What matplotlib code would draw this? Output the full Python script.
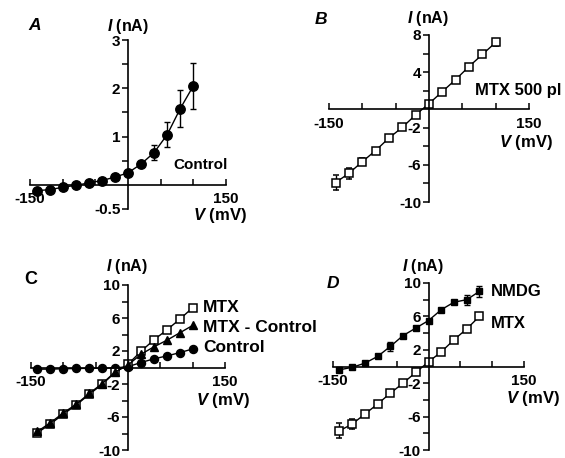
import matplotlib
matplotlib.use("Agg")
import matplotlib.pyplot as plt
import numpy as np

plt.rcParams['font.family'] = ['Liberation Sans', 'DejaVu Sans']
plt.rcParams['font.weight'] = 'bold'
plt.rcParams['mathtext.fontset'] = 'custom'
plt.rcParams['mathtext.rm'] = 'Liberation Sans:bold'
plt.rcParams['mathtext.it'] = 'Liberation Sans:italic:bold'

# ---------------- data ----------------
V13 = [-140, -120, -100, -80, -60, -40, -20, 0, 20, 40, 60, 80, 100]
V12 = [-140, -120, -100, -80, -60, -40, -20, 0, 20, 40, 60, 80]

# Panel A: control
a_control = [-0.12, -0.10, -0.05, -0.01, 0.04, 0.09, 0.16, 0.25, 0.43, 0.67, 1.04, 1.58, 2.05]
a_control_err = [0, 0, 0, 0, 0, 0, 0, 0, 0, 0.16, 0.26, 0.39, 0.47]

# Panel B: MTX 500 pM
b_mtx = [-7.9, -6.9, -5.65, -4.45, -3.1, -1.95, -0.6, 0.6, 1.9, 3.2, 4.6, 5.9, 7.2]
b_mtx_err = [0.8, 0.6, 0.4, 0, 0, 0, 0, 0, 0, 0, 0, 0, 0.4]

# Panel C
c_mtx = [-7.9, -6.85, -5.65, -4.55, -3.25, -2.05, -0.6, 0.4, 1.95, 3.35, 4.55, 5.85, 7.25]
c_diff = [-7.75, -6.7, -5.5, -4.45, -3.15, -1.95, -0.55, 0.3, 1.6, 2.5, 3.3, 4.2, 5.1]
c_control = [-0.2, -0.2, -0.15, -0.12, -0.1, -0.08, -0.05, 0.1, 0.6, 1.05, 1.4, 1.8, 2.25]

# Panel D
d_nmdg = [-0.4, -0.1, 0.4, 1.2, 2.4, 3.7, 4.6, 5.5, 6.8, 7.7, 8.0, 9.0]
d_nmdg_err = [0.3, 0, 0, 0, 0.5, 0, 0, 0, 0, 0, 0.6, 0.7]
d_mtx = [-7.7, -6.9, -5.7, -4.5, -3.2, -2.0, -0.7, 0.55, 1.75, 3.2, 4.5, 6.0]
d_mtx_err = [0.9, 0.6, 0.4, 0, 0, 0, 0, 0, 0, 0, 0, 0]

xticks = [-150, -100, -50, 50, 100, 150]
xticklabels = ['-150', '', '', '', '', '150']
a_yticks = [-0.5, 0.5, 1, 1.5, 2, 2.5, 3]
a_yticklabels = ['-0.5', '', '1', '', '2', '', '3']
b_yticks = [-10, -8, -6, -4, -2, 2, 4, 6, 8]
b_yticklabels = ['-10', '', '-6', '', '-2', '', '4', '', '8']
cd_yticks = [-10, -8, -6, -4, -2, 2, 4, 6, 8, 10]
cd_yticklabels = ['-10', '', '-6', '', '-2', '2', '', '6', '', '10']

# ---------------- figure ----------------
W, H = 565, 458
fig = plt.figure(figsize=(W / 100, H / 100), dpi=100)
TFS = 11


def px_axes(left, right, top, bottom):
    return fig.add_axes([left / W, 1 - bottom / H, (right - left) / W, (bottom - top) / H])


def ftext(x, y, s, fs=12, **kw):
    kw.setdefault('va', 'center')
    fig.text(x / W, 1 - y / H, s, fontsize=fs, **kw)


def style(ax, ylim, yticks, yticklabels):
    ax.set_xlim(-150, 150)
    ax.set_ylim(*ylim)
    ax.patch.set_alpha(0)
    for s in ['top', 'right']:
        ax.spines[s].set_visible(False)
    ax.spines['left'].set_position(('data', 0))
    ax.spines['bottom'].set_position(('data', 0))
    for s in ['left', 'bottom']:
        ax.spines[s].set_linewidth(1.2)
    ax.set_xticks(xticks)
    ax.set_xticklabels(xticklabels)
    ax.set_yticks(yticks)
    ax.set_yticklabels(yticklabels)
    ax.tick_params(axis='x', direction='in', length=4, width=1.1, pad=5.5, labelsize=TFS)
    ax.tick_params(axis='y', direction='out', length=4, width=1.1, pad=1.5, labelsize=TFS)


ebkw = dict(color='black', lw=1, capsize=2.5, elinewidth=1, capthick=1, clip_on=False)

# Panel A
axA = px_axes(30, 226, 40, 209)
style(axA, (-0.5, 3), a_yticks, a_yticklabels)
axA.errorbar(V13, a_control, yerr=a_control_err, fmt='o-', ms=6.8, mfc='black', mec='black', **ebkw)

# Panel B
axB = px_axes(329, 529, 35, 202)
style(axB, (-10, 8), b_yticks, b_yticklabels)
axB.errorbar(V13, b_mtx, yerr=b_mtx_err, fmt='s-', ms=5.2, mfc='white', mec='black', mew=1.1, **ebkw)

# Panel C
axC = px_axes(31, 225, 285, 450)
style(axC, (-10, 10), cd_yticks, cd_yticklabels)
axC.plot(V13, c_control, 'o-', color='black', ms=5.8, lw=1, clip_on=False)
axC.plot(V13, c_mtx, 's-', color='black', ms=5.2, mfc='white', mew=1.1, lw=1, clip_on=False)
axC.plot(V13, c_diff, '^-', color='black', ms=5.5, lw=1, clip_on=False)

# Panel D
axD = px_axes(333, 524, 283, 450)
style(axD, (-10, 10), cd_yticks, cd_yticklabels)
axD.errorbar(V12, d_nmdg, yerr=d_nmdg_err, fmt='s-', ms=5, mfc='black', mec='black', **ebkw)
axD.errorbar(V12, d_mtx, yerr=d_mtx_err, fmt='s-', ms=5.2, mfc='white', mec='black', mew=1.1, **ebkw)

# ---------------- texts ----------------
# panel letters
ftext(28, 25, 'A', fs=12.5, style='italic')
ftext(315, 20, 'B', fs=12.5, style='italic')
ftext(24, 280, 'C', fs=13)
ftext(327, 283, 'D', fs=12.5, style='italic')

# y axis titles
ftext(107, 26, '$I$ (nA)', fs=11.5)
ftext(407, 19, '$I$ (nA)', fs=11.5)
ftext(106, 267, '$I$ (nA)', fs=11.5)
ftext(402, 266, '$I$ (nA)', fs=11.5)

# x axis titles
ftext(193, 215, '$V$ (mV)', fs=12)
ftext(499, 142, '$V$ (mV)', fs=12)
ftext(196, 401, '$V$ (mV)', fs=12)
ftext(506, 398, '$V$ (mV)', fs=12)

# curve labels
ftext(173, 165, 'Control', fs=11)
ftext(475, 91, 'MTX 500 pl', fs=12)
ftext(203, 308, 'MTX', fs=12.5)
ftext(203, 328, 'MTX - Control', fs=12.5)
ftext(203, 348, 'Control', fs=12.5)
ftext(491, 291, 'NMDG', fs=12)
ftext(491, 323, 'MTX', fs=12)

fig.savefig('out.png', dpi=100)
